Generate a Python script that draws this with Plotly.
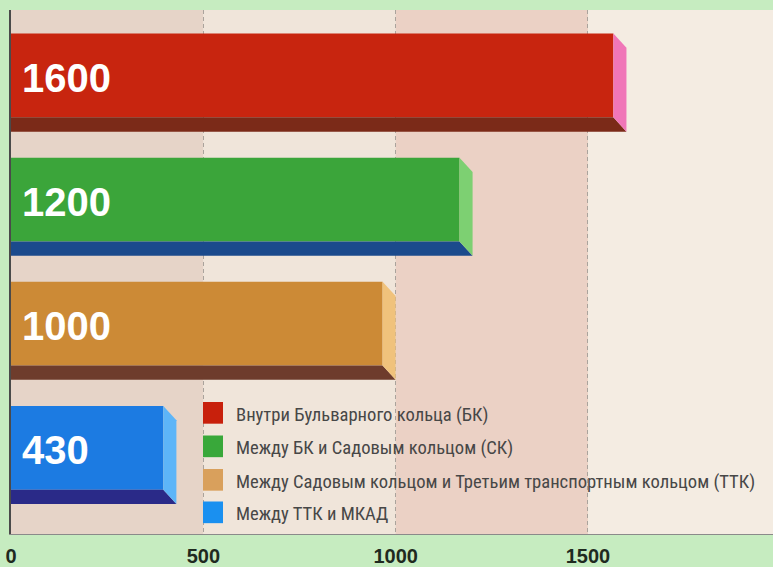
import plotly.graph_objects as go

# ---- data ----
categories = ["Внутри Бульварного кольца (БК)",
              "Между БК и Садовым кольцом (СК)",
              "Между Садовым кольцом и Третьим транспортным кольцом (ТТК)",
              "Между ТТК и МКАД"]
values = [1600, 1200, 1000, 430]
tick_vals = [0, 500, 1000, 1500]
tick_text = ["0", "500", "1000", "1500"]

# ---- style ----
front_colors = ["#c8250f", "#3ba53a", "#cc8a36", "#1c7be2"]
bottom_colors = ["#7b2a18", "#1b4a8c", "#6e3c2c", "#2a2a88"]
side_colors = ["#f076b8", "#7dd072", "#f0c27c", "#5db5f8"]
legend_colors = ["#c8200c", "#39a83a", "#d9a05c", "#1a90f0"]
band_colors = ["#e6d4c8", "#f0e5da", "#ebd1c5", "#f4ece2"]

W, H = 773, 567
ML, MR, MT, MB = 11, 0, 10, 25
XMAX = 1981
Y_RANGE = [3.637, -0.585]
OFF = -0.395      # front face top relative to category position
FH = 0.675        # front face height
DY = 0.115        # depth (vertical) in data units
DX = 34           # depth (horizontal) in data units

pos = list(range(len(values)))
front = [v - DX for v in values]

fig = go.Figure()
for i, (c, v, f) in enumerate(zip(categories, values, front)):
    fig.add_trace(go.Bar(
        x=[f], y=[pos[i]], orientation="h", name=c,
        width=FH, offset=OFF,
        marker=dict(color=front_colors[i], line=dict(width=0)),
        customdata=[v], hovertemplate="%{customdata}<extra>" + c + "</extra>",
        showlegend=False,
    ))

shapes = []
# background bands
edges = tick_vals + [XMAX]
for k in range(len(edges) - 1):
    shapes.append(dict(type="rect", xref="x", yref="paper", x0=edges[k], x1=edges[k + 1],
                       y0=0, y1=1, fillcolor=band_colors[k], line=dict(width=0), layer="below"))

# 3D faces
for i, f in enumerate(front):
    p = pos[i]
    yt = p + OFF
    yb = p + OFF + FH
    ye = yb + DY
    bottom = f"M 0,{yb} L {f},{yb} L {f + DX},{ye} L 0,{ye} Z"
    side = f"M {f},{yt} L {f + DX},{yt + DY} L {f + DX},{ye} L {f},{yb} Z"
    shapes.append(dict(type="path", xref="x", yref="y", path=bottom,
                       fillcolor=bottom_colors[i], line=dict(width=0), layer="above"))
    shapes.append(dict(type="path", xref="x", yref="y", path=side,
                       fillcolor=side_colors[i], line=dict(width=0), layer="above"))

annotations = []
# value labels
for i, v in enumerate(values):
    annotations.append(dict(x=0, y=pos[i] - 0.04, xref="x", yref="y", text=str(v),
                            showarrow=False, xanchor="left", yanchor="middle", xshift=9,
                            font=dict(family="Liberation Sans, Arial, sans-serif", size=40,
                                      color="white", weight="bold")))

# custom legend (positions in figure pixels)
pw = W - ML - MR
ph = H - MT - MB
def px_x(px):
    return (px - ML) / pw
def px_y(py):
    return (H - MB - py) / ph

leg_centers = [419, 453, 487, 520]
for i, c in enumerate(categories):
    cy = leg_centers[i]
    shapes.append(dict(type="rect", xref="paper", yref="paper",
                       x0=px_x(203), x1=px_x(223), y0=px_y(cy + 11), y1=px_y(cy - 11),
                       fillcolor=legend_colors[i], line=dict(width=0), layer="above"))
    annotations.append(dict(x=px_x(234), y=px_y(cy + 2), xref="paper", yref="paper", text=c,
                            showarrow=False, xanchor="left", yanchor="middle",
                            font=dict(family="Liberation Sans Narrow, Roboto Condensed, DejaVu Sans Condensed, Arial Narrow, Roboto, sans-serif",
                                      size=18.6, color="#474747")))

fig.update_layout(
    width=W, height=H,
    margin=dict(l=ML, r=MR, t=MT, b=MB, pad=0),
    paper_bgcolor="#c6ecc0",
    plot_bgcolor="#efe5da",
    barmode="overlay",
    shapes=shapes,
    annotations=annotations,
    showlegend=False,
    xaxis=dict(range=[0, XMAX], tickvals=tick_vals, ticktext=tick_text,
               showgrid=True, gridcolor="#aaa39c", griddash="4px,3px", gridwidth=1,
               zeroline=False, showline=True, linecolor="#8a8a8a", linewidth=1,
               ticks="", ticklabelstandoff=4, ticklabeloverflow="allow",
               tickfont=dict(family="Liberation Sans, Arial, sans-serif", size=20,
                             color="#1f2a1f", weight="bold")),
    yaxis=dict(range=Y_RANGE, showticklabels=False, showgrid=False, zeroline=False,
               showline=True, linecolor="#4a4a4a", linewidth=1.5, ticks=""),
)

fig.write_html("out.html", config={"displayModeBar": False},
               post_script="document.body.style.margin='0';document.body.style.background='#c6ecc0';")
